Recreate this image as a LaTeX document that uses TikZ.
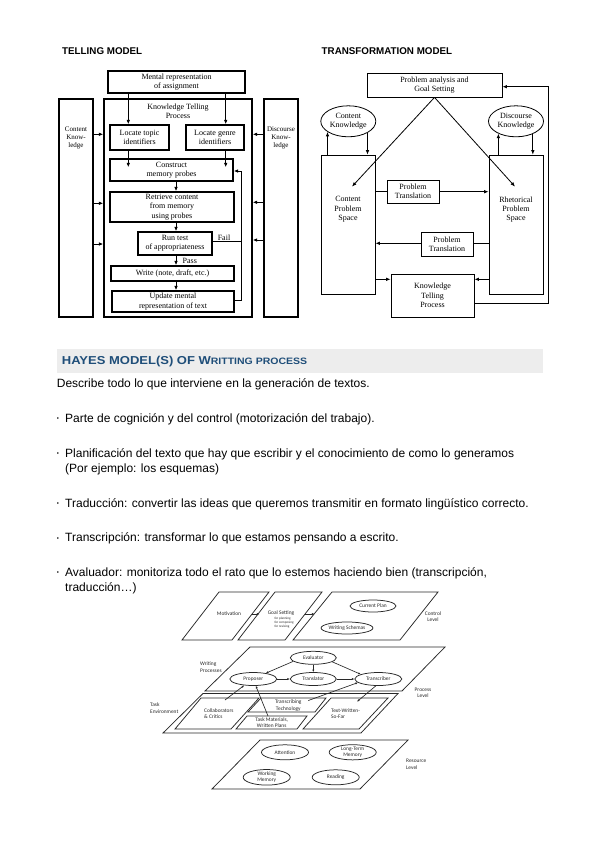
\documentclass[tikz,border=0pt]{standalone}
\usepackage{fontspec}
\usepackage{graphicx}
\setmainfont{Liberation Sans}
\newfontfamily\serifx{Liberation Serif}
\newfontfamily\hay{Carlito}
\usetikzlibrary{arrows.meta,shapes.geometric,calc}
\definecolor{hdrblue}{RGB}{31,78,121}
\definecolor{hdrgray}{RGB}{237,237,237}
\definecolor{hline}{RGB}{40,40,40}
\begin{document}
\begin{tikzpicture}[x=1pt,y=-1pt,
  tb/.style={draw, line width=1.3pt, font=\serifx\fontsize{8}{9.3}\selectfont, align=center, inner sep=0pt},
  tt/.style={draw, line width=0.8pt, font=\serifx\fontsize{8}{9.3}\selectfont, align=center, inner sep=0pt},
  lab/.style={font=\serifx\fontsize{8}{9.3}\selectfont, align=center, inner sep=0pt},
  slab/.style={font=\serifx\fontsize{7}{8.4}\selectfont, align=center, inner sep=0pt},
  arr/.style={-{Latex[length=4.5pt,width=3.6pt]}, line width=0.9pt},
  tarr/.style={-{Latex[length=4.5pt,width=3.6pt]}, line width=0.8pt},
  ln/.style={line width=0.9pt},
  heading/.style={font=\bfseries\fontsize{9.8}{11}\selectfont, anchor=base west, inner sep=0pt},
  body/.style={font=\fontsize{12}{14}\selectfont, anchor=base west, inner sep=0pt},
  hl/.style={draw=hline, line width=0.75pt},
  hel/.style={ellipse, draw=hline, line width=0.75pt, minimum width=46, minimum height=13, inner sep=0pt, font=\hay\fontsize{5.4}{6.4}\selectfont, align=center, text=hline},
  htx/.style={font=\hay\fontsize{5.4}{6.6}\selectfont, align=center, inner sep=0pt, text=hline},
  harr/.style={-{Latex[length=2.6pt,width=2.2pt]}, line width=0.65pt, draw=hline},
]
\useasboundingbox (0,0) rectangle (599,848);
\fill[white] (0,0) rectangle (599,848);

% ---------------- headings
\node[heading] (h1) at (62,55) {TELLING MODEL};
\node[heading] (h2) at (321.5,55) {TRANSFORMATION MODEL};

% ---------------- TELLING MODEL
\node[tb, minimum width=137, minimum height=22] (mental) at (176.5,82) {Mental representation\\of assignment};
\node[tb, minimum width=148, minimum height=218] (ktp) at (178,208) {};
\node[lab] (ktpl) at (178,111.5) {Knowledge Telling\\Process};
\node[tb, minimum width=34, minimum height=218] (ck) at (76,208) {};
\node[slab] (ckl) at (76,138) {Content\\Know-\\ledge};
\node[tb, minimum width=34, minimum height=218] (dk) at (281,208) {};
\node[slab] (dkl) at (281,138) {Discourse\\Know-\\ledge};
\node[tb, minimum width=59, minimum height=25] (ltopic) at (139.5,137.5) {Locate topic\\identifiers};
\node[tb, minimum width=58, minimum height=25] (lgenre) at (215,137.5) {Locate genre\\identifiers};
\node[tb, minimum width=123, minimum height=22] (construct) at (171.5,170) {Construct\\memory probes};
\node[tb, minimum width=124, minimum height=30] (retrieve) at (172,207) {Retrieve content\\from memory\\using probes};
\node[tb, minimum width=74, minimum height=23] (runtest) at (175,243.5) {Run test\\of appropriateness};
\node[tb, minimum width=123, minimum height=15] (write) at (172.5,273.5) {Write (note, draft, etc.)};
\node[tb, minimum width=122, minimum height=21] (update) at (173,301.5) {Update mental\\representation of text};

\draw[arr] (mental.south -| 128.3,0) -- (ltopic.north -| 128.3,0);
\draw[arr] (mental.south -| 225.7,0) -- (lgenre.north -| 225.7,0);
\draw[arr] (ltopic.south -| 128.3,0) -- ($(construct.north -| 128.3,0)+(0,9)$);
\draw[arr] (lgenre.south -| 225.7,0) -- ($(construct.north -| 225.7,0)+(0,9)$);
\draw[arr] (construct.south -| 176,0) -- (retrieve.north -| 176,0);
\draw[arr] (retrieve.south -| 176,0) -- (runtest.north -| 176,0);
\draw[arr] (runtest.south -| 176,0) -- (write.north -| 176,0);
\draw[arr] (write.south -| 176,0) -- (update.north -| 176,0);
\draw[ln] (runtest.east |- 0,241.7) -- (241.7,241.7);
\node[lab, anchor=south] (fail) at (224,240.5) {Fail};
\node[lab, anchor=west] (pass) at (182.5,261) {Pass};
\draw[arr] (update.east |- 0,300.7) -- (241.7,300.7) -- (241.7,171) -- (construct.east |- 0,171);
\foreach \yy in {134.3,203.3,244} {\draw[arr] (ck.east |- 0,\yy) -- (ktp.west |- 0,\yy);}
\foreach \yy in {134.3,202.3,240} {\draw[arr] (dk.west |- 0,\yy) -- (ktp.east |- 0,\yy);}

% ---------------- TRANSFORMATION MODEL
\node[tt, minimum width=135, minimum height=24] (pa) at (434.5,85) {Problem analysis and\\Goal Setting};
\node[tt, ellipse, minimum width=55, minimum height=31] (ckn) at (348.3,121.3) {Content\\Knowledge};
\node[tt, ellipse, minimum width=55, minimum height=31] (dkn) at (516,121.3) {Discourse\\Knowledge};
\node[tt, minimum width=54, minimum height=139] (cps) at (348,224.5) {};
\node[lab] (cpsl) at (348,209.5) {Content\\Problem\\Space};
\node[tt, minimum width=54, minimum height=139] (rps) at (516,224.5) {};
\node[lab] (rpsl) at (516,209.5) {Rhetorical\\Problem\\Space};
\node[tt, minimum width=52, minimum height=23] (pt1) at (413,191.5) {Problem\\Translation};
\node[tt, minimum width=52, minimum height=24] (pt2) at (447,244) {Problem\\Translation};
\node[tt, minimum width=83, minimum height=43] (ktp2) at (432.5,295.5) {Knowledge\\Telling\\Process};

\draw[tarr] (ckn.207.5 |- cps.north) -- (ckn.207.5);
\draw[tarr] (ckn.-31.8) -- (ckn.-31.8 |- cps.north);
\draw[tarr] (dkn.215.4 |- rps.north) -- (dkn.215.4);
\draw[tarr] (dkn.-37.3) -- (dkn.-37.3 |- rps.north);
\draw[tarr] (pa.south) -- ($(cps.north)+(4,32)$);
\draw[tarr] (pa.south) -- ($(rps.north)+(-1,32)$);
\draw[line width=0.8pt] (cps.east |- 0,191.7) -- (pt1.west |- 0,191.7);
\draw[tarr] (pt1.east |- 0,191.7) -- (rps.west |- 0,191.7);
\draw[line width=0.8pt] (rps.west |- 0,243.3) -- (pt2.east |- 0,243.3);
\draw[tarr] (pt2.west |- 0,243.3) -- (cps.east |- 0,243.3);
\draw[tarr] (cps.east |- 0,279.3) -- (ktp2.west |- 0,279.3);
\draw[tarr] (rps.west |- 0,279.3) -- (ktp2.east |- 0,279.3);
\draw[tarr] (ktp2.east |- 0,303.3) -- (548.3,303.3) -- (548.3,86.7) -- (pa.east |- 0,86.7);

% ---------------- HAYES header and text
\node[fill=hdrgray, minimum width=486, minimum height=24, inner sep=0pt, anchor=north west] (band) at (56.7,348.3) {};
\node[anchor=base west, inner sep=0pt, text=hdrblue, font=\bfseries] (hdr) at (61.7,364)
  {\scalebox{1.13}[1]{\fontsize{11.5}{13}\selectfont HAYES MODEL(S) OF W\fontsize{9.3}{11}\selectfont RITTING PROCESS}};

\node[body] (t0) at (56.7,387) {Describe todo lo que interviene en la generación de textos.};
\node[body] (t1) at (56.7,422) {\makebox[8.3pt][l]{\raisebox{1.5pt}{\fontsize{6}{6}\selectfont •}}Parte de cognición y del control (motorización del trabajo).};
\node[body] (t2) at (56.7,457) {\makebox[8.3pt][l]{\raisebox{1.5pt}{\fontsize{6}{6}\selectfont •}}Planificación del texto que hay que escribir y el conocimiento de como lo generamos};
\node[body] (t2b) at (65,472.5) {(Por ejemplo: los esquemas)};
\node[body] (t3) at (56.7,507) {\makebox[8.3pt][l]{\raisebox{1.5pt}{\fontsize{6}{6}\selectfont •}}Traducción: convertir las ideas que queremos transmitir en formato lingüístico correcto.};
\node[body] (t4) at (56.7,541.5) {\makebox[8.3pt][l]{\raisebox{1.5pt}{\fontsize{6}{6}\selectfont •}}Transcripción: transformar lo que estamos pensando a escrito.};
\node[body] (t5) at (56.7,576) {\makebox[8.3pt][l]{\raisebox{1.5pt}{\fontsize{6}{6}\selectfont •}}Avaluador: monitoriza todo el rato que lo estemos haciendo bien (transcripción,};
\node[body] (t5b) at (65,591) {traducción…)};

% ---------------- HAYES diagram
% control level
\coordinate (mTL) at (219,592); \coordinate (mTR) at (269,592); \coordinate (mBR) at (232,640); \coordinate (mBL) at (182,640);
\coordinate (gTL) at (275,592); \coordinate (gTR) at (322,592); \coordinate (gBR) at (285,640); \coordinate (gBL) at (238,640);
\coordinate (cTL) at (332,592); \coordinate (cTR) at (438,592); \coordinate (cBR) at (400,640); \coordinate (cBL) at (293,640);
\draw[hl] (mTL) -- (mTR) -- (mBR) -- (mBL) -- cycle;
\draw[hl] (gTL) -- (gTR) -- (gBR) -- (gBL) -- cycle;
\draw[hl] (cTL) -- (cTR) -- (cBR) -- (cBL) -- cycle;
\coordinate (mg1) at (252,614); \coordinate (mg2) at (259.5,614);
\coordinate (gc1) at (305,614); \coordinate (gc2) at (314.5,614);
\draw[harr] (mg1) -- (mg2);
\draw[harr] (gc1) -- (gc2);
\node[htx] (motl) at (229,614) {Motivation};
\node[htx] (goall) at (281,613.3) {Goal Setting};
\node[font=\hay\fontsize{3.3}{4}\selectfont, align=left, inner sep=0pt, anchor=west, text=hline] (goalsub) at (274.3,622.3) {for planning\\for composing\\for revising};
\node[hel, minimum width=46, minimum height=12] (cplan) at (373,606) {Current Plan};
\node[hel, minimum width=46, minimum height=12] (wsch) at (347,628) {Writing Schemas};
\node[htx] (ctrll) at (433,616.7) {Control\\Level};

% process level
\coordinate (pTL) at (250,647); \coordinate (pTR) at (445,647); \coordinate (pBR) at (402,691); \coordinate (pBL) at (205,691);
\draw[hl] (pTL) -- (pTR) -- (pBR) -- (pBL) -- cycle;
\node[htx, align=left, anchor=west] (wpl) at (200,667) {Writing\\Processes};
\node[htx] (procl) at (423,692.7) {Process\\Level};
\node[hel, minimum width=46] (eval) at (313.3,657.8) {Evaluator};
\node[hel, minimum width=47] (prop) at (253.3,679) {Proposer};
\node[hel, minimum width=46] (trans) at (313.3,679) {Translator};
\node[hel, minimum width=47] (tscr) at (378.3,679) {Transcriber};

% task environment
\coordinate (eTL) at (203,693.5); \coordinate (eTR) at (398,693.5); \coordinate (eBR) at (361,733); \coordinate (eBL) at (163,733);
\draw[hl] (eTL) -- (eTR) -- (eBR) -- (eBL) -- cycle;
\draw[hl] (201,698) -- (259,698) -- (231,729) -- (175,729) -- cycle;
\draw[hl] (261,698) -- (326,698) -- (315,712) -- (248,712) -- cycle;
\draw[hl] (247,716) -- (307,716) -- (297,729) -- (236,729) -- cycle;
\draw[hl] (331,698) -- (388,698) -- (359,729) -- (303,729) -- cycle;
\node[htx, align=left, anchor=west] (tel) at (150,708.3) {Task\\Environment};
\node[htx, align=left, anchor=west] (collab) at (204,713.5) {Collaborators\\\& Critics};
\node[htx] (ttech) at (288.3,705.7) {Transcribing\\Technology};
\node[htx] (tmat) at (271.7,722.6) {Task Materials,\\Written Plans};
\node[htx, align=left, anchor=west] (twsf) at (331,713.5) {Text-Written-\\So-Far};

\coordinate (collabA) at (225,700);
\coordinate (tmatA) at (268,716);
\coordinate (ttechA) at (308.3,700.5);
\coordinate (twsfA) at (357,701.7);
\draw[harr] (eval.190) -- (prop.25);
\draw[harr] (eval.south) -- (trans.north);
\draw[harr] (eval.-12) -- (tscr.165);
\draw[harr] (prop.east) -- (trans.west);
\draw[harr] (trans.east) -- (tscr.west);
\draw[harr] (collabA) -- (prop.215);
\draw[harr] (tmatA) -- (prop.290);
\draw[harr] (ttechA) -- (tscr.190);
\draw[harr] (tscr.250) -- (twsfA);

% resource level
\coordinate (rTL) at (260,740); \coordinate (rTR) at (408,740); \coordinate (rBR) at (360,789); \coordinate (rBL) at (212,789);
\draw[hl] (rTL) -- (rTR) -- (rBR) -- (rBL) -- cycle;
\node[hel, minimum width=47, minimum height=15] (att) at (285,752.3) {Attention};
\node[hel, minimum width=47, minimum height=15] (ltm) at (352.7,752.3) {Long-Term\\Memory};
\node[hel, minimum width=47, minimum height=15] (wm) at (266.7,777.3) {Working\\Memory};
\node[hel, minimum width=47, minimum height=15] (read) at (335.7,777.3) {Reading};
\node[htx, align=left, anchor=west] (resl) at (406,764.5) {Resource\\Level};
\end{tikzpicture}
\end{document}
